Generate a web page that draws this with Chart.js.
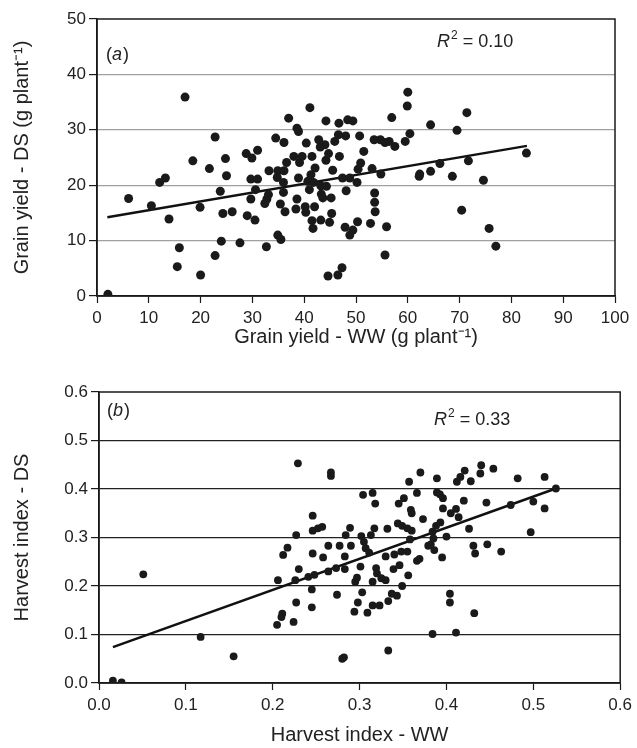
<!DOCTYPE html>
<html>
<head>
<meta charset="utf-8">
<script src="https://cdn.jsdelivr.net/npm/chart.js@4.4.0/dist/chart.umd.min.js"></script>
<style>
  body { margin: 0; background: #fff; }
  canvas { display: block; }
</style>
</head>
<body>
<canvas id="chartA" width="637" height="350"></canvas>
<canvas id="chartB" width="637" height="398"></canvas>
<script>
// (a) grain yield, g per plant
var wwA = [2.1,6.1,10.5,12.1,13.2,13.9,17.0,15.9,15.5,18.5,19.9,20.0,21.7,22.8,23.8,24.8,25.0,24.3,26.1,24.0,22.8,27.6,28.8,29.9,31.0,29.7,31.0,30.6,29.7,29.0,30.5,
  32.7,32.8,32.4,33.1,33.2,34.5,34.9,34.8,36.1,36.1,36.0,36.0,35.4,36.3,34.9,35.5,37.0,36.6,38.0,38.6,38.9,39.1,38.9,38.6,38.4,40.2,40.3,40.4,39.6,41.1,41.5,40.7,41.0,41.3,42.1,41.8,42.0,41.5,41.7,
  42.8,43.1,44.0,43.2,43.3,43.6,43.2,44.2,44.7,44.2,44.3,45.2,45.3,44.9,45.5,45.9,46.6,46.7,46.8,44.6,46.5,47.3,47.4,48.1,48.0,48.4,49.4,47.9,48.8,49.4,50.3,48.8,50.2,50.4,50.9,50.7,51.5,
  52.8,53.1,53.6,53.6,53.7,53.5,54.8,54.7,55.6,56.4,55.9,55.6,57.5,56.9,59.5,60.4,59.9,60.0,62.2,62.3,64.4,64.4,66.2,
  68.6,69.5,71.4,71.7,70.4,74.6,75.7,77.0,82.9]
var dsA = [0.3,17.6,16.3,20.5,21.3,13.9,35.9,8.7,5.3,24.4,16.0,3.8,23.0,28.7,18.9,24.8,21.7,14.9,15.2,9.9,7.3,9.6,25.7,24.9,26.3,21.1,21.1,19.2,17.5,14.5,13.7,
  8.9,17.5,16.7,18.3,22.6,28.5,22.6,21.4,27.7,22.6,20.5,18.7,16.6,15.2,11.0,10.2,32.1,24.1,25.2,30.3,29.7,24.1,21.3,17.5,15.7,16.1,15.1,27.6,25.2,34.0,25.2,20.7,19.2,21.9,23.1,20.5,16.1,13.6,12.2,
  28.2,26.9,27.3,19.9,18.4,17.7,13.7,24.5,25.7,31.6,19.8,17.7,14.9,13.3,22.7,27.9,29.1,31.2,25.2,3.6,3.8,5.1,21.3,19.0,28.9,31.8,31.6,12.4,11.0,11.9,13.4,21.3,20.5,22.9,24.0,28.9,26.1,
  13.1,23.0,18.6,16.9,15.2,28.2,22.0,28.2,27.7,27.9,12.5,7.4,27.0,32.2,27.9,29.3,34.3,36.8,21.6,22.0,22.5,30.9,23.9,
  21.6,29.9,33.1,24.4,15.5,20.9,12.2,9.0,25.8]
var fitAx = [2, 83]
var fitAy = [14.2, 27.1]

// (b) harvest index
var wwB = [0.016,0.026,0.051,0.117,0.155,
  0.229,0.267,0.267,0.304,0.315,0.318,0.246,0.246,0.252,0.257,0.227,0.217,0.212,0.230,0.206,0.226,0.241,0.248,0.245,0.246,0.258,0.264,0.264,0.273,0.277,0.283,0.283,0.290,0.289,0.284,0.274,0.227,0.245,0.211,0.210,0.205,0.224,0.280,0.282,
  0.294,0.298,0.295,0.297,0.301,0.303,0.302,0.305,0.307,0.311,0.313,0.317,0.309,0.315,0.323,0.315,0.319,0.320,0.325,0.330,0.333,0.337,0.343,0.349,0.356,0.339,0.346,0.330,0.340,0.348,0.355,0.332,0.344,0.349,0.355,0.360,0.358,0.366,0.369,
  0.345,0.351,0.359,0.360,0.373,0.366,0.357,0.370,0.389,0.389,0.379,0.384,0.333,
  0.3925,0.396,0.396,0.405,0.411,0.414,0.420,0.426,0.388,0.393,0.384,0.400,0.385,0.382,0.386,0.395,0.412,0.416,0.421,0.428,0.439,0.440,0.454,0.446,0.474,0.482,0.500,0.513,0.513,0.497,0.431,0.433,0.447,0.463,0.404,0.404,0.432,0.411,0.526]
var dsB = [0.005,0.001,0.224,0.095,0.055,
  0.453,0.434,0.427,0.388,0.392,0.370,0.345,0.314,0.319,0.322,0.305,0.279,0.264,0.235,0.212,0.212,0.219,0.223,0.193,0.267,0.259,0.283,0.230,0.237,0.283,0.261,0.235,0.283,0.320,0.305,0.182,0.166,0.156,0.143,0.136,0.120,0.126,0.050,0.053,
  0.147,0.166,0.209,0.217,0.240,0.187,0.303,0.291,0.278,0.269,0.305,0.319,0.145,0.160,0.160,0.209,0.237,0.226,0.216,0.212,0.169,0.184,0.180,0.200,0.222,0.235,0.243,0.261,0.265,0.271,0.271,0.318,0.329,0.324,0.319,0.314,0.296,0.252,0.256,
  0.370,0.381,0.357,0.350,0.338,0.392,0.415,0.434,0.422,0.393,0.283,0.101,0.067,
  0.389,0.381,0.360,0.350,0.359,0.342,0.376,0.318,0.324,0.331,0.312,0.302,0.298,0.286,0.274,0.259,0.415,0.425,0.438,0.416,0.432,0.449,0.442,0.372,0.367,0.422,0.374,0.425,0.360,0.311,0.283,0.267,0.286,0.271,0.184,0.166,0.144,0.104,0.401]
var fitBx = [0.016, 0.526]
var fitBy = [0.074, 0.401]

Chart.defaults.font.family = "'Liberation Sans', Arial, sans-serif"
Chart.defaults.color = '#222'

// box round the plot + panel letter + R2 note
const panelText = {
  id: 'panelText',
  afterDatasetsDraw(chart, args, o) {
    const ctx = chart.ctx, a = chart.chartArea
    ctx.save()
    ctx.strokeStyle = '#1a1a1a'
    ctx.lineWidth = 1.5
    ctx.strokeRect(a.left, a.top, a.right - a.left, a.bottom - a.top)
    ctx.fillStyle = '#222'
    ctx.textBaseline = 'middle'
    var x = a.left + o.tagX, y = a.top + o.tagY
    ctx.font = "18px 'Liberation Sans', Arial"
    ctx.fillText('(', x, y); x += ctx.measureText('(').width
    ctx.font = "italic 18px 'Liberation Sans', Arial"
    ctx.fillText(o.tag, x, y); x += ctx.measureText(o.tag).width + 1
    ctx.font = "18px 'Liberation Sans', Arial"
    ctx.fillText(')', x, y)

    x = a.left + o.rX; y = a.top + o.rY
    ctx.font = "italic 18px 'Liberation Sans', Arial"
    ctx.fillText('R', x, y); x += ctx.measureText('R').width + 1
    ctx.font = "12px 'Liberation Sans', Arial"
    ctx.fillText('2', x, y - 6); x += ctx.measureText('2').width
    ctx.font = "18px 'Liberation Sans', Arial"
    ctx.fillText(' = ' + o.r2, x, y)
    ctx.restore()
  }
}

const makeChart = function(id, xs, ys, fx, fy, cfg){
  var pts = xs.map((v, i) => ({x: v, y: ys[i]}))
  var line = fx.map((v, i) => ({x: v, y: fy[i]}))
  var ctx = document.getElementById(id).getContext('2d')
  return new Chart(ctx, {
    type: 'scatter',
    data: {
      datasets: [{
        data: pts,
        backgroundColor: '#1a1a1a',
        borderColor: '#1a1a1a',
        pointRadius: cfg.r,
        borderWidth: 0
      }, {
        type: 'line',
        data: line,
        borderColor: '#111',
        borderWidth: 2.5,
        pointRadius: 0,
        fill: false
      }]
    },
    plugins: [panelText],
    options: {
      responsive: false,
      animation: false,
      layout: { padding: { top: cfg.top, right: cfg.right, left: 0, bottom: 0 } },
      plugins: {
        legend: { display: false },
        tooltip: { enabled: false },
        panelText: cfg.text
      },
      scales: {
        x: {
          type: 'linear', min: cfg.xmin, max: cfg.xmax,
          afterFit: s => { s.height = cfg.xh },
          border: { color: '#1a1a1a', width: 1.5 },
          grid: { drawOnChartArea: false, tickLength: 7, tickColor: '#1a1a1a', tickWidth: 1.2 },
          ticks: { stepSize: cfg.xstep, padding: 5, font: { size: 17 }, maxRotation: 0, callback: cfg.fmt },
          title: { display: true, text: cfg.xtitle, font: { size: 20 }, padding: { top: 0, bottom: cfg.xpad } }
        },
        y: {
          min: cfg.ymin, max: cfg.ymax,
          afterFit: s => { s.width = cfg.yw },
          border: { color: '#1a1a1a', width: 1.5 },
          grid: {
            color: c => (c.tick.value === cfg.ymin || Math.abs(c.tick.value - cfg.ymax) < 1e-9) ? 'rgba(0,0,0,0)' : cfg.gridColor,
            lineWidth: 1.2, tickLength: 8, tickColor: '#1a1a1a', tickWidth: 1.2
          },
          ticks: { stepSize: cfg.ystep, padding: 3, font: { size: 17 }, callback: cfg.yfmt },
          title: { display: true, text: cfg.ytitle, font: { size: 20 }, padding: { top: 10, bottom: 0 } }
        }
      }
    }
  })
}

makeChart('chartA', wwA, dsA, fitAx, fitAy, {
  r: 4.5, top: 19, right: 22, xh: 54, yw: 97, xpad: 1,
  xmin: 0, xmax: 100, xstep: 10, ymin: 0, ymax: 50, ystep: 10,
  fmt: v => v, yfmt: v => v,
  gridColor: '#a0a0a0',
  xtitle: 'Grain yield - WW (g plant\u207B\u00B9)',
  ytitle: 'Grain yield - DS (g plant\u207B\u00B9)',
  text: { tag: 'a', tagX: 9, tagY: 36, r2: '0.10', rX: 340, rY: 23 }
})

makeChart('chartB', wwB, dsB, fitBx, fitBy, {
  r: 3.9, top: 42, right: 13, xh: 65, yw: 99, xpad: 1,
  xmin: 0, xmax: 0.6, xstep: 0.1, ymin: 0, ymax: 0.6, ystep: 0.1,
  fmt: v => Number(v).toFixed(1), yfmt: v => Number(v).toFixed(1),
  gridColor: '#222',
  xtitle: 'Harvest index - WW',
  ytitle: 'Harvest index - DS',
  text: { tag: 'b', tagX: 8, tagY: 19, r2: '0.33', rX: 335, rY: 28 }
})
</script>
</body>
</html>
